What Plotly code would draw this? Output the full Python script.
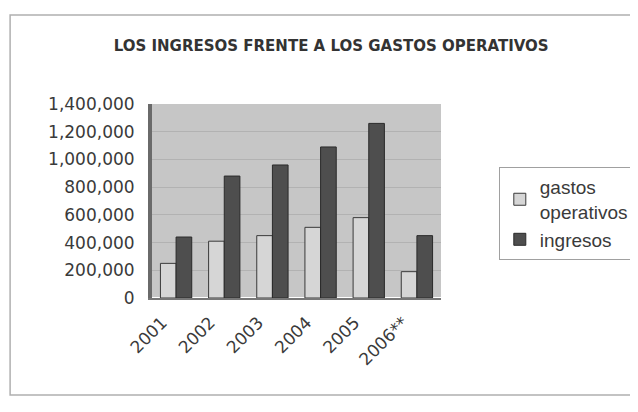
import plotly.graph_objects as go

years = ["2001", "2002", "2003", "2004", "2005", "2006**"]
gastos = [250000, 410000, 450000, 510000, 580000, 190000]
ingresos = [440000, 880000, 960000, 1090000, 1260000, 450000]
yticks = [0, 200000, 400000, 600000, 800000, 1000000, 1200000, 1400000]

fig = go.Figure()
fig.add_trace(go.Bar(x=years, y=gastos, name="gastos<br>operativos",
                     marker=dict(color="#d6d6d6", line=dict(color="#3a3a3a", width=1))))
fig.add_trace(go.Bar(x=years, y=ingresos, name="ingresos",
                     marker=dict(color="#4e4e4e", line=dict(color="#2a2a2a", width=1))))

fig.update_layout(
    width=630, height=404,
    margin=dict(l=144, r=197, t=96, b=114, autoexpand=False),
    paper_bgcolor="#ffffff",
    plot_bgcolor="#c6c6c6",
    barmode="group", bargap=0.35, bargroupgap=0,
    font=dict(family="DejaVu Sans, Liberation Sans, sans-serif", color="#3a3a3a"),
    title=dict(text="LOS INGRESOS FRENTE A LOS GASTOS OPERATIVOS",
               x=0.513, xref="container", xanchor="center", y=0.906, yanchor="middle",
               font=dict(family="DejaVu Sans", size=15, color="#333333", weight="bold")),
    legend=dict(x=1.2, y=0.675, xanchor="left", yanchor="top",
                bgcolor="#ffffff", bordercolor="#a0a0a0", borderwidth=1,
                font=dict(family="Liberation Sans", size=19, color="#3a3a3a"),
                tracegroupgap=0, itemwidth=30),
    xaxis=dict(tickangle=-45, tickfont=dict(size=17), showgrid=False,
               showline=True, linecolor="#777777", linewidth=2, ticks="",
               ticklabelshift=-14, ticklabelstandoff=6),
    yaxis=dict(range=[0, 1400000], tickvals=yticks, tickformat=",",
               tickfont=dict(size=17), showgrid=True, gridcolor="#b2b2b2",
               gridwidth=1, showline=True, linecolor="#6a6a6a", linewidth=4,
               ticks="", ticklabelstandoff=10),
    shapes=[dict(type="rect", xref="paper", yref="paper",
                 x0=-0.491, x1=1.661, y0=-0.5, y1=1.459,
                 line=dict(color="#b0b0b0", width=1.5), fillcolor="rgba(0,0,0,0)",
                 layer="below")],
)

fig.write_html("out.html")
